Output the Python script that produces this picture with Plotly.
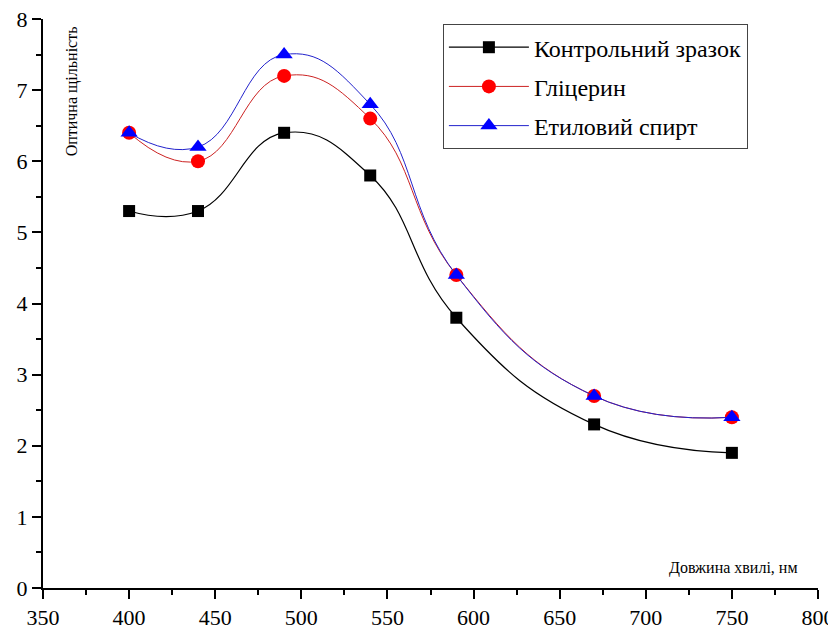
import plotly.graph_objects as go

wavelength = [400, 440, 490, 540, 590, 670, 750]
control = [5.3, 5.3, 6.4, 5.8, 3.8, 2.3, 1.9]
glycerin = [6.4, 6.0, 7.2, 6.6, 4.4, 2.7, 2.4]
ethanol = [6.4, 6.2, 7.5, 6.8, 4.4, 2.7, 2.4]
names = ["Контрольний зразок", "Гліцерин", "Етиловий спирт"]

font_family = "Times New Roman"

fig = go.Figure()
fig.add_trace(go.Scatter(x=wavelength, y=control, name=names[0], mode="lines+markers",
                         line=dict(color="black", width=1.2, shape="spline", smoothing=1.3),
                         marker=dict(symbol="square", size=12, color="black"),
                         legendgroup="a"))
fig.add_trace(go.Scatter(x=wavelength, y=glycerin, name=names[1], mode="lines+markers",
                         line=dict(color="#cc2222", width=1.0, shape="spline", smoothing=1.3),
                         marker=dict(symbol="circle", size=14, color="#ff0000"),
                         legendgroup="b"))
fig.add_trace(go.Scatter(x=wavelength, y=ethanol, name=names[2], mode="lines+markers",
                         line=dict(color="#2222cc", width=1.0, shape="spline", smoothing=1.3),
                         marker=dict(symbol="triangle-up", size=15, color="#0000ff"),
                         legendgroup="c"))

axis_common = dict(showgrid=False, zeroline=False, showline=True, linecolor="black", linewidth=2,
                   ticks="outside", ticklen=9, tickwidth=2, tickcolor="black", automargin=False,
                   ticklabeloverflow="allow",
                   tickfont=dict(family=font_family, size=22, color="black"))

fig.update_xaxes(range=[350, 800], dtick=50, tick0=350,
                 minor=dict(ticks="outside", ticklen=5, tickwidth=2, tickcolor="black", dtick=25),
                 **axis_common)
fig.update_yaxes(range=[0, 8], dtick=1, tick0=0,
                 minor=dict(ticks="outside", ticklen=5, tickwidth=2, tickcolor="black", dtick=0.5),
                 **axis_common)

fig.add_annotation(text="Довжина хвилі, нм", xref="paper", yref="paper", x=0.977, y=0.035,
                   xanchor="right", yanchor="middle", showarrow=False,
                   font=dict(family=font_family, size=16, color="black"))
fig.add_annotation(text="Оптична щільність", xref="paper", yref="paper", x=0.037, y=0.99,
                   xanchor="center", yanchor="top", showarrow=False, textangle=-90,
                   font=dict(family=font_family, size=16, color="black"))

fig.update_layout(
    template="none",
    width=828, height=623,
    margin=dict(l=35, r=18, t=11, b=43),
    plot_bgcolor="white", paper_bgcolor="white",
    font=dict(family=font_family, color="black"),
    legend=dict(x=0.516, y=0.991, xanchor="left", yanchor="top",
                bordercolor="#444", borderwidth=1, bgcolor="white",
                font=dict(family=font_family, size=24, color="black"),
                tracegroupgap=5, itemwidth=80),
)

fig.write_html("out.html")
